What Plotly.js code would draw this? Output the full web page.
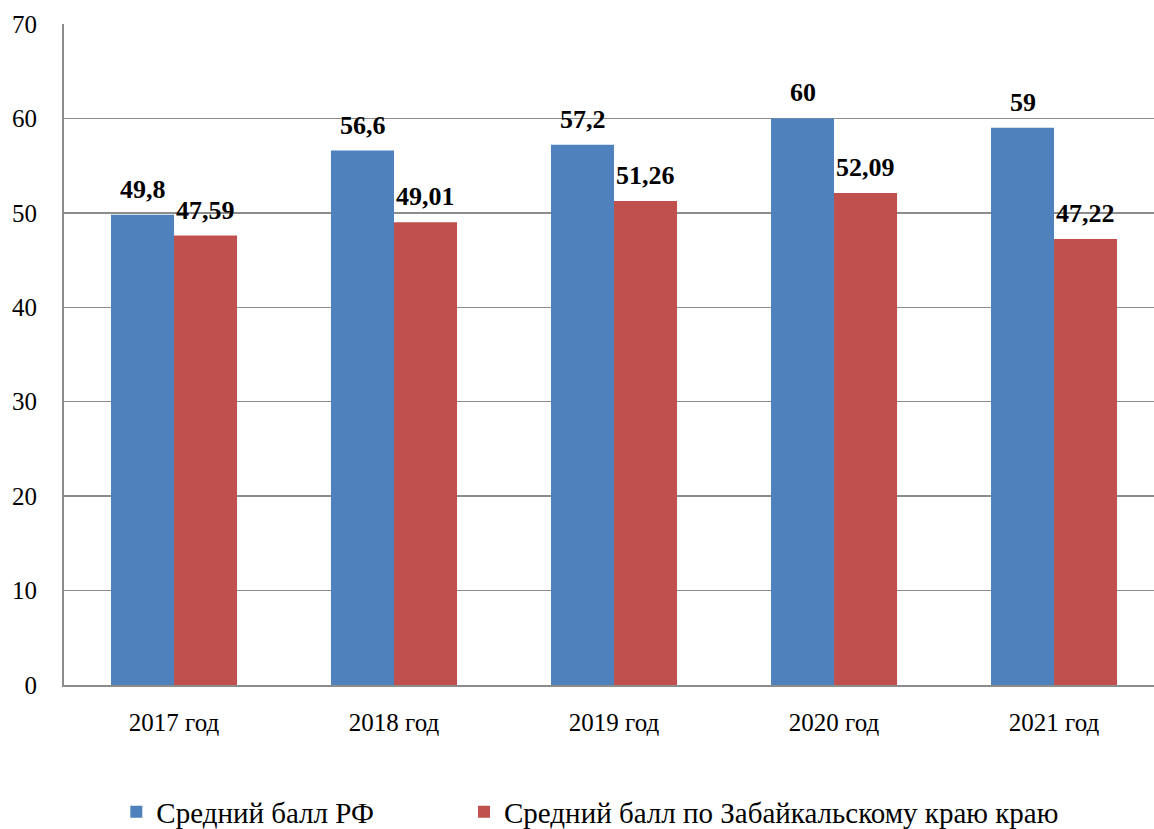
<!DOCTYPE html>
<html>
<head>
<meta charset="utf-8">
<script src="https://cdn.plot.ly/plotly-3.0.1.min.js"></script>
<style>html,body{margin:0;padding:0;background:#fff;overflow:hidden}</style>
</head>
<body>
<div id="chart" style="width:1154px;height:829px"></div>
<script>
const categories = ["2017 год", "2018 год", "2019 год", "2020 год", "2021 год"];
const seriesRF = [49.8, 56.6, 57.2, 60, 59];
const seriesZab = [47.59, 49.01, 51.26, 52.09, 47.22];
const labelsRF = ["49,8", "56,6", "57,2", "60", "59"];
const labelsZab = ["47,59", "49,01", "51,26", "52,09", "47,22"];
const seriesNames = ["Средний балл РФ", "Средний балл по Забайкальскому краю краю"];
const yTicks = [0, 10, 20, 30, 40, 50, 60, 70];

const serif = "Liberation Serif";
const xs = categories.map((c, i) => i);
const colors = ["#4F81BD", "#C0504D"];

const data = [
  {type: "bar", x: xs, y: seriesRF, name: seriesNames[0], legend: "legend",
   marker: {color: colors[0], line: {width: 0}}, hoverinfo: "skip"},
  {type: "bar", x: xs, y: seriesZab, name: seriesNames[1], legend: "legend2",
   marker: {color: colors[1], line: {width: 0}}, hoverinfo: "skip"}
];

const annotations = [];
const barOffset = 0.143;
[[seriesRF, labelsRF, -barOffset], [seriesZab, labelsZab, barOffset]].forEach(([vals, labs, off]) => {
  vals.forEach((v, i) => {
    annotations.push({
      x: xs[i] + off, y: v, xref: "x", yref: "y",
      text: "<b>" + labs[i] + "</b>", showarrow: false,
      xanchor: "center", yanchor: "bottom", yshift: 9,
      font: {family: serif, size: 26, color: "#000"}
    });
  });
});

const legendFont = {family: serif, size: 29, color: "#000"};
const layout = {
  width: 1154, height: 829,
  margin: {l: 64, r: 0, t: 24, b: 144, autoexpand: false},
  paper_bgcolor: "#fff", plot_bgcolor: "#fff",
  barmode: "group", bargap: 0.427, bargroupgap: 0,
  font: {family: serif, color: "#000"},
  showlegend: true,
  legend: {orientation: "h", x: 0.048, xanchor: "left", y: -0.192, yanchor: "middle",
    font: legendFont, itemwidth: 30, bgcolor: "rgba(0,0,0,0)"},
  legend2: {orientation: "h", x: 0.367, xanchor: "left", y: -0.192, yanchor: "middle",
    font: legendFont, itemwidth: 30, bgcolor: "rgba(0,0,0,0)"},
  annotations: annotations,
  xaxis: {
    tickmode: "array", tickvals: xs, ticktext: categories,
    range: [-0.5, 4.4545],
    showgrid: false, zeroline: false,
    showline: true, linecolor: "#8c8c8c", linewidth: 2,
    ticks: "", ticklabelstandoff: 14,
    tickfont: {family: serif, size: 25, color: "#000"}
  },
  yaxis: {
    range: [0, 70], tickmode: "array", tickvals: yTicks,
    showgrid: true, gridcolor: "#8c8c8c", gridwidth: 1.5,
    zeroline: false, showline: true, linecolor: "#8c8c8c", linewidth: 2,
    ticks: "", ticklabelstandoff: 20,
    tickfont: {family: serif, size: 25, color: "#000"}
  }
};

Plotly.newPlot("chart", data, layout, {displayModeBar: false, staticPlot: true});
</script>
</body>
</html>
